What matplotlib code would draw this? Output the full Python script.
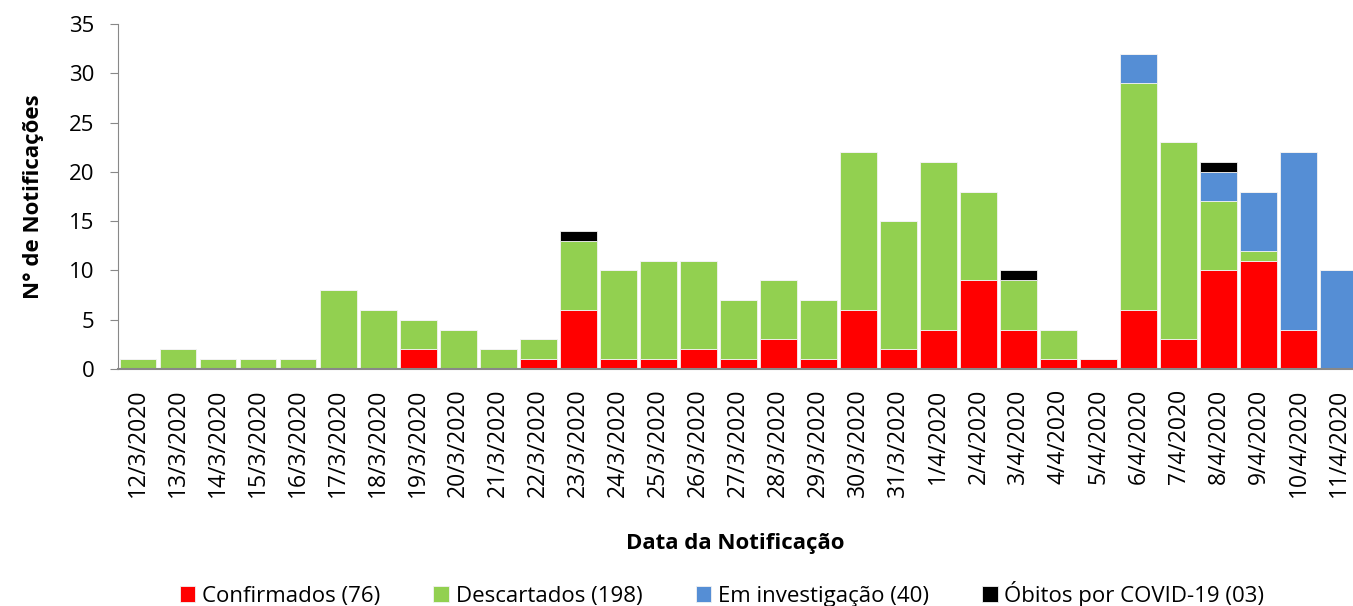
import matplotlib
matplotlib.use("Agg")
import matplotlib.pyplot as plt
import numpy as np

dates = ["12/3/2020", "13/3/2020", "14/3/2020", "15/3/2020", "16/3/2020", "17/3/2020",
         "18/3/2020", "19/3/2020", "20/3/2020", "21/3/2020", "22/3/2020", "23/3/2020",
         "24/3/2020", "25/3/2020", "26/3/2020", "27/3/2020", "28/3/2020", "29/3/2020",
         "30/3/2020", "31/3/2020", "1/4/2020", "2/4/2020", "3/4/2020", "4/4/2020",
         "5/4/2020", "6/4/2020", "7/4/2020", "8/4/2020", "9/4/2020", "10/4/2020", "11/4/2020"]
confirmados = [0, 0, 0, 0, 0, 0, 0, 2, 0, 0, 1, 6, 1, 1, 2, 1, 3, 1, 6, 2, 4, 9, 4, 1, 1, 6, 3, 10, 11, 4, 0]
descartados = [1, 2, 1, 1, 1, 8, 6, 3, 4, 2, 2, 7, 9, 10, 9, 6, 6, 6, 16, 13, 17, 9, 5, 3, 0, 23, 20, 7, 1, 0, 0]
investigacao = [0, 0, 0, 0, 0, 0, 0, 0, 0, 0, 0, 0, 0, 0, 0, 0, 0, 0, 0, 0, 0, 0, 0, 0, 0, 3, 0, 3, 6, 18, 10]
obitos = [0, 0, 0, 0, 0, 0, 0, 0, 0, 0, 0, 1, 0, 0, 0, 0, 0, 0, 0, 0, 0, 0, 1, 0, 0, 0, 0, 1, 0, 0, 0]
legend_labels = ["Confirmados (76)", "Descartados (198)", "Em investigação (40)", "Óbitos por COVID-19 (03)"]
colors = ["#FF0000", "#92D050", "#558ED5", "#000000"]

plt.rcParams['font.family'] = ['Open Sans', 'DejaVu Sans']

fig = plt.figure(figsize=(13.53, 6.06), dpi=100)
ax = fig.add_axes([118/1353, 1-369/606, 1-118/1353, (369-24)/606])

x = np.arange(len(dates))
series = [confirmados, descartados, investigacao, obitos]
bottom = np.zeros(len(dates))
handles = []
for vals, col, lab in zip(series, colors, legend_labels):
    vals = np.array(vals, dtype=float)
    b = ax.bar(x, vals, width=0.92, bottom=bottom, color=col, edgecolor="#F2F2F2",
               linewidth=0.6, label=lab, zorder=2)
    handles.append(b)
    bottom += vals

ax.set_xlim(-0.5, 30.36)
ax.set_ylim(0, 35)
ax.set_yticks(range(0, 36, 5))
ax.set_xticks(x)
ax.set_xticklabels(dates, rotation=90, fontsize=16.5)
ax.tick_params(axis='y', labelsize=16, length=6, color="#888888", direction='out', pad=11)
ax.tick_params(axis='x', length=0, pad=14)
for s in ['top', 'right']:
    ax.spines[s].set_visible(False)
ax.spines['left'].set_color("#888888")
ax.spines['bottom'].set_color("#888888")
ax.spines['bottom'].set_linewidth(1.5)

ax.set_ylabel("N° de Notificações", fontsize=16, fontweight='bold', labelpad=18)
ax.set_xlabel("Data da Notificação", fontsize=16, fontweight='bold', labelpad=26)

fig.legend(handles=handles, labels=legend_labels, loc='center', bbox_to_anchor=(722/1353, 1-594/606),
           ncol=4, frameon=False, fontsize=16, handlelength=0.7, handleheight=0.7,
           handletextpad=0.3, columnspacing=2.4, borderpad=0)

fig.savefig("out.png", dpi=100)
